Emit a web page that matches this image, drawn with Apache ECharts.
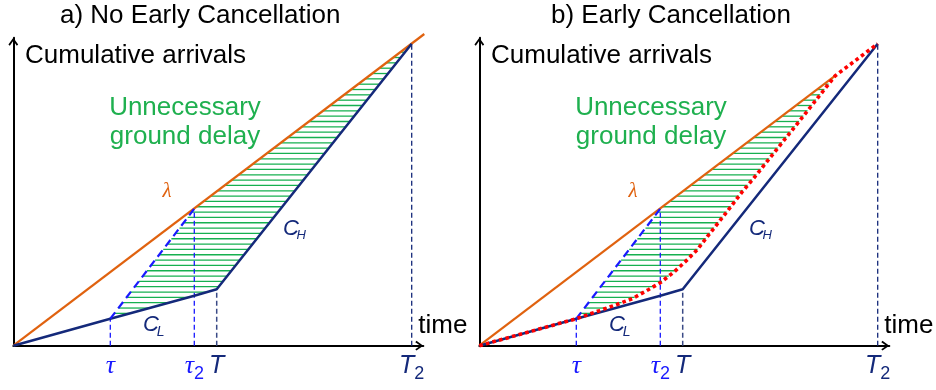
<!DOCTYPE html>
<html><head><meta charset="utf-8">
<script src="https://cdn.jsdelivr.net/npm/echarts@6/dist/echarts.min.js"></script>
<style>html,body{margin:0;padding:0;background:#fff}#c{width:936px;height:390px}</style>
</head><body><div id="c"></div>
<script>
// ---------- data (diagram units) ----------
const panelTitles = ['a) No Early Cancellation', 'b) Early Cancellation'];
const tickValues = [97, 181, 203.4, 398.4];
const tickNames = ['τ', 'τ2', 'T', 'T2'];
const lambdaA = [[0, 0], [411, 311.7]];
const lambdaB = [[0, 0], [356, 270]];
const capacityCurve = [[0, 0], [97, 27], [181, 50], [203.4, 56.4], [398.4, 302]];
const delayedTarget = [[97, 27], [181, 137]];
const cancelCurve = [[0, 0], [97, 27], [120, 35], [137, 41], [153, 47], [169, 56], [181, 63], [195, 74], [207, 85], [218, 96], [228, 109], [250, 137], [263, 154], [274, 167], [322, 227], [356, 270], [398.4, 302]];
const guideTau = [[97, 0], [97, 27]];
const guideTau2 = [[181, 0], [181, 137]];
const guideT = [[203.4, 0], [203.4, 56.4]];
const guideT2 = [[398.4, 0], [398.4, 302]];
const hatchStep = 5.33;

// ---------- helpers ----------
function xAt(poly, y) {
  for (let i = 0; i < poly.length - 1; i++) {
    const [x0, y0] = poly[i], [x1, y1] = poly[i + 1];
    if (y >= y0 && y <= y1 && y1 > y0) return x0 + (x1 - x0) * (y - y0) / (y1 - y0);
  }
  return null;
}
function hatchLines(left, right, yStart, yEnd) {
  const out = [];
  for (let k = 1; yStart + k * hatchStep < yEnd; k++) {
    const y = yStart + k * hatchStep;
    const a = xAt(left, y), b = xAt(right, y);
    if (a != null && b != null && b > a) out.push([a, b, y]);
  }
  return out;
}
const leftA = [delayedTarget[0], delayedTarget[1], capacityCurve[4]];
const rightA = capacityCurve.slice(1);
const leftB = [delayedTarget[0], delayedTarget[1], lambdaB[1]];
const rightB = cancelCurve.slice(1, cancelCurve.length - 1);
const hatchA = hatchLines(leftA, rightA, 27, 302);
const hatchB = hatchLines(leftB, rightB, 27, 270);

const ORANGE = '#e0620f', NAVY = '#14297a', BLUE = '#1a1aff', GREEN = '#16b050', RED = '#ff0000';
const SANS = '"Liberation Sans", Arial, sans-serif';
const SERIF = '"Liberation Serif", "Times New Roman", serif';
const arrow = 'path://M5,0L10,7L8.6,8.2L5,3L1.4,8.2L0,7Z';

function line(i, data, color, width, type, z) {
  return { type: 'line', xAxisIndex: i, yAxisIndex: i, data, symbol: 'none', clip: false,
    lineStyle: { color, width, type: type || 'solid', cap: 'butt' }, z: z || 2, silent: true, animation: false };
}
function hatch(i, data) {
  return { type: 'custom', xAxisIndex: i, yAxisIndex: i, data, clip: false, silent: true, z: 1,
    renderItem: (p, api) => {
      const a = api.coord([api.value(0), api.value(2)]);
      const b = api.coord([api.value(1), api.value(2)]);
      return { type: 'line', shape: { x1: a[0], y1: a[1], x2: b[0], y2: b[1] },
        style: { stroke: GREEN, lineWidth: 1.3 } };
    } };
}
const labelRich = {
  g: { fontFamily: SERIF, fontStyle: 'italic', fontSize: 26, color: BLUE, lineHeight: 34 },
  gs: { fontFamily: SANS, fontSize: 18, color: BLUE, lineHeight: 18, padding: [16, 0, 0, 0] },
  t: { fontFamily: SANS, fontStyle: 'italic', fontSize: 25, color: NAVY, lineHeight: 34 },
  ts: { fontFamily: SANS, fontSize: 18, color: NAVY, lineHeight: 18, padding: [16, 0, 0, 0] }
};
function tickFormatter(v) {
  let best = 0;
  tickValues.forEach((t, k) => { if (Math.abs(t - v) < Math.abs(tickValues[best] - v)) best = k; });
  const n = tickNames[best];
  const greek = n[0] === 'τ';
  const main = greek ? 'g' : 't', sub = greek ? 'gs' : 'ts';
  return '{' + main + '|' + n[0] + '}' + (n.length > 1 ? '{' + sub + '|' + n.slice(1) + '}' : '');
}

const grids = [], xAxes = [], yAxes = [], series = [], graphic = [], titles = [];
[0, 1].forEach(i => {
  const dx = i * 466;
  grids.push({ left: 13.3 + dx, top: 37.7, width: 410, height: 308, outerBoundsMode: 'none', containLabel: false });
  xAxes.push({ type: 'value', gridIndex: i, min: 0, max: 410,
    axisLine: { show: true, lineStyle: { color: '#000', width: 2 }, symbol: ['none', arrow], symbolSize: [12, 8], symbolOffset: [0, -4] },
    axisTick: { show: false }, splitLine: { show: false },
    axisLabel: { customValues: tickValues, formatter: tickFormatter, rich: labelRich, margin: 3 },
    name: 'time', nameLocation: 'end', nameGap: -5, nameMoveOverlap: false,
    nameTextStyle: { fontFamily: SANS, fontSize: 26, color: '#000', align: 'left', verticalAlign: 'bottom', padding: [0, 0, 7, 0] } });
  yAxes.push({ type: 'value', gridIndex: i, min: 0, max: 308,
    axisLine: { show: true, lineStyle: { color: '#000', width: 2 }, symbol: ['none', arrow], symbolSize: [12, 8], symbolOffset: [0, -4] },
    axisTick: { show: false }, splitLine: { show: false }, axisLabel: { show: false },
    name: 'Cumulative arrivals', nameLocation: 'end', nameGap: -18, nameMoveOverlap: false,
    nameTextStyle: { fontFamily: SANS, fontSize: 26, color: '#000', align: 'left', verticalAlign: 'middle', padding: [0, 0, 0, 11.7] } });
  titles.push({ text: panelTitles[i], left: i === 0 ? 60 : 551, top: 3, padding: 0,
    textStyle: { fontFamily: SANS, fontSize: 26, fontWeight: 'normal', color: '#000' } });

  series.push(hatch(i, i === 0 ? hatchA : hatchB));
  series.push(line(i, guideTau, BLUE, 1.3, [5, 3]));
  series.push(line(i, guideTau2, BLUE, 1.3, [5, 3]));
  series.push(line(i, guideT, '#3a4a86', 1.5, [5, 3]));
  series.push(line(i, guideT2, NAVY, 1.3, [5, 3]));
  series.push(line(i, i === 0 ? lambdaA : lambdaB, ORANGE, 2.2));
  series.push(line(i, capacityCurve, NAVY, 2.5, 'solid', 3));
  series.push(line(i, delayedTarget, BLUE, 2.2, [8, 5], 3));
  if (i === 1) series.push(line(i, cancelCurve, RED, 3.6, [3.6, 3.2], 5));

  const txt = (x, y, text, fs, fill, opts) => graphic.push(Object.assign({ type: 'text', x: x + dx, y, silent: true, z: 10,
    style: Object.assign({ text, fontSize: fs, fontFamily: SANS, fill, align: 'left', verticalAlign: 'middle' }, opts || {}) }));
  txt(185, 107.6, 'Unnecessary', 26, '#1fb04f', { align: 'center' });
  txt(185, 137, 'ground delay', 26, '#1fb04f', { align: 'center' });
  txt(167, 191, 'λ', 21, ORANGE, { align: 'center', fontFamily: SERIF, fontStyle: 'italic' });
  txt(283, 228.8, 'C', 22, NAVY, { fontStyle: 'italic' });
  txt(296.5, 235.8, 'H', 13, NAVY, { fontStyle: 'italic' });
  txt(143, 325.2, 'C', 22, NAVY, { fontStyle: 'italic' });
  txt(156.8, 332, 'L', 14, NAVY, { fontStyle: 'italic' });
});

const chart = echarts.init(document.getElementById('c'), null, { renderer: 'canvas' });
chart.setOption({ animation: false, backgroundColor: '#fff', title: titles, grid: grids,
  xAxis: xAxes, yAxis: yAxes, series, graphic });
</script></body></html>
